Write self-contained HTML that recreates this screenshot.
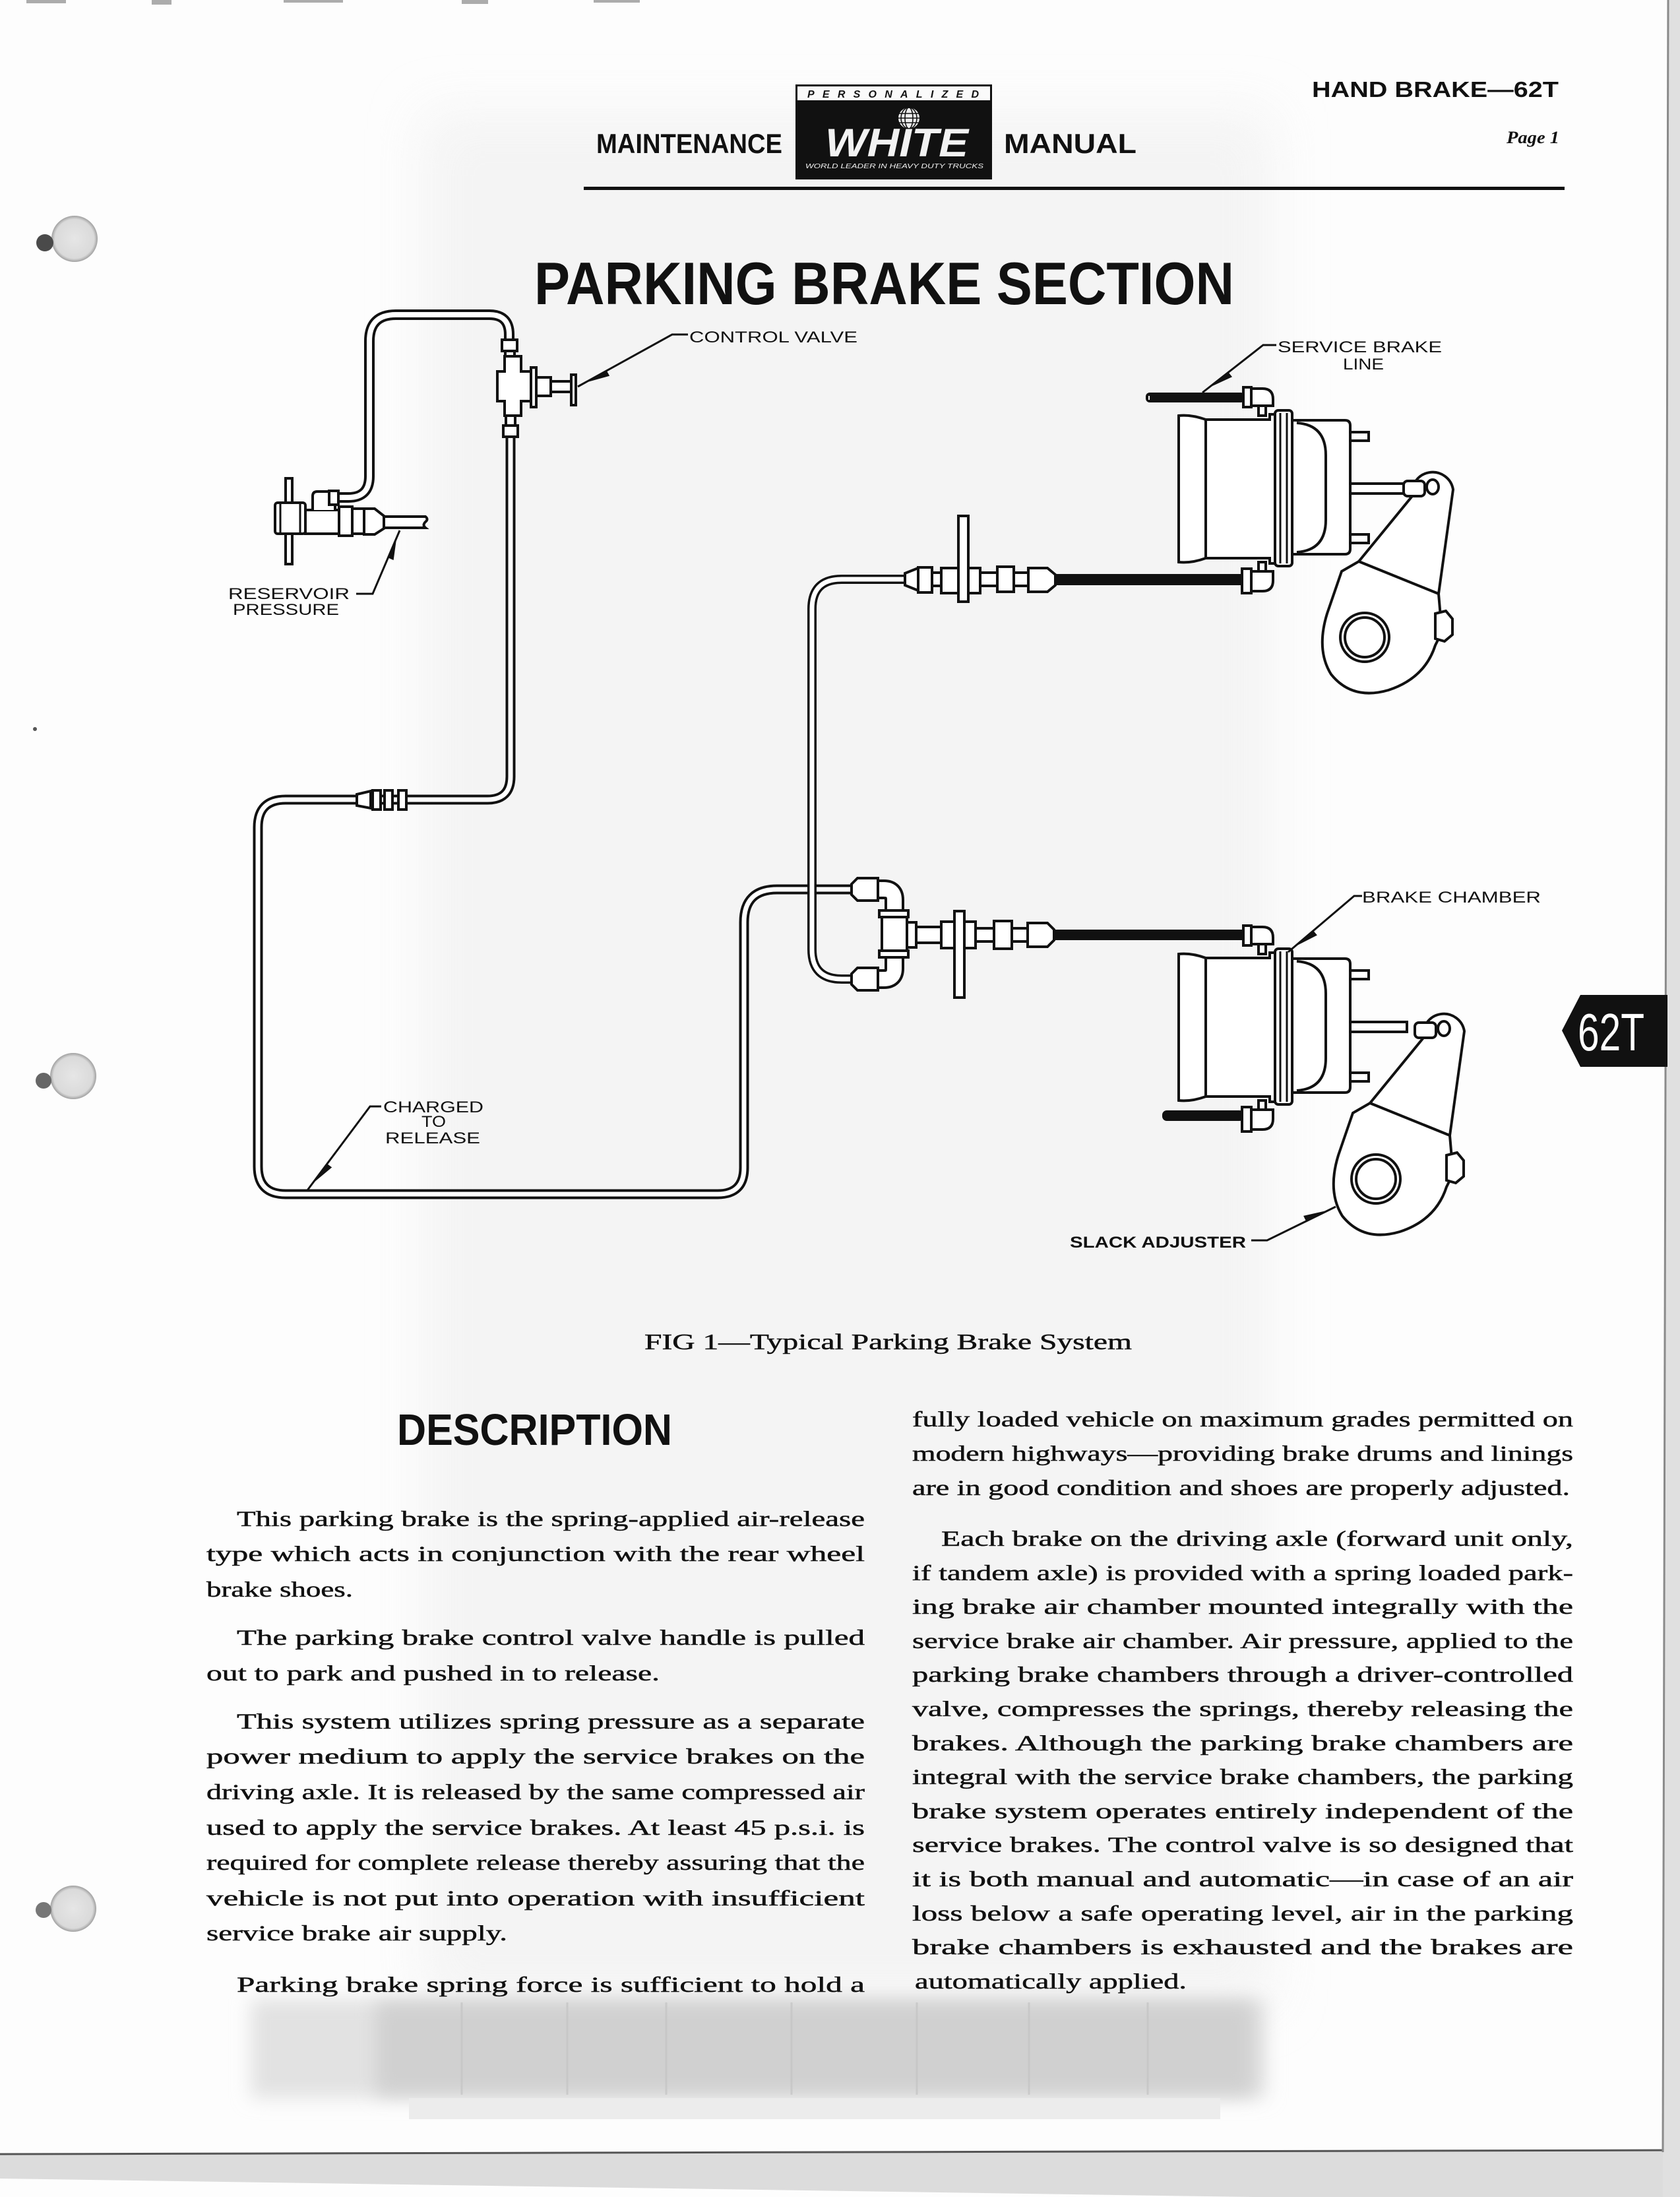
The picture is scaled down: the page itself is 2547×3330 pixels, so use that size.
<!DOCTYPE html>
<html>
<head>
<meta charset="utf-8">
<style>
html,body{margin:0;padding:0;background:#fdfdfd;}
body{width:2547px;height:3330px;overflow:hidden;}
svg{display:block;}
.lbl{font-family:"Liberation Sans",sans-serif;font-size:24px;fill:#111;}
.bt{font-family:"Liberation Serif",serif;font-size:33px;fill:#111;stroke:#111;stroke-width:0.5px;}
</style>
</head>
<body>
<svg width="2547" height="3330" viewBox="0 0 2547 3330" xmlns="http://www.w3.org/2000/svg">
<defs>
  <filter id="b40" x="-20%" y="-20%" width="140%" height="140%"><feGaussianBlur stdDeviation="40"/></filter>
  <filter id="b15" x="-20%" y="-50%" width="140%" height="200%"><feGaussianBlur stdDeviation="14"/></filter>
  <radialGradient id="hole" cx="50%" cy="50%" r="50%">
    <stop offset="0" stop-color="#e6e6e6"/><stop offset="0.85" stop-color="#dadada"/><stop offset="1" stop-color="#a0a0a0"/>
  </radialGradient>
</defs>

<!-- page background & scan artifacts -->
<rect x="0" y="0" width="2547" height="3330" fill="#fdfdfd"/>
<rect x="640" y="170" width="1290" height="2870" fill="#f2f2f2" filter="url(#b40)" opacity="0.8"/>
<rect x="380" y="3030" width="1540" height="150" fill="#e2e2e2" filter="url(#b15)"/>
<rect x="570" y="3035" width="1330" height="140" fill="#d0d0d0" filter="url(#b15)"/>
<g stroke="#c4c4c4" stroke-width="3" opacity="0.7">
  <line x1="700" y1="3035" x2="700" y2="3175"/><line x1="860" y1="3035" x2="860" y2="3175"/>
  <line x1="1010" y1="3035" x2="1010" y2="3175"/><line x1="1200" y1="3035" x2="1200" y2="3175"/>
  <line x1="1390" y1="3035" x2="1390" y2="3175"/><line x1="1560" y1="3035" x2="1560" y2="3175"/>
  <line x1="1740" y1="3035" x2="1740" y2="3175"/>
</g>
<rect x="620" y="3180" width="1230" height="32" fill="#ececec"/>
<g fill="#777" opacity="0.6">
  <rect x="40" y="0" width="60" height="5"/><rect x="230" y="0" width="30" height="7"/>
  <rect x="430" y="0" width="90" height="4"/><rect x="700" y="0" width="40" height="6"/>
  <rect x="900" y="0" width="70" height="4"/>
</g>
<!-- bottom edge -->
<polygon points="0,3266 2547,3259 2547,3330 1900,3330 0,3302" fill="#dcdcdc"/>
<line x1="0" y1="3265" x2="2547" y2="3259" stroke="#555" stroke-width="3"/>
<!-- right edge -->
<polygon points="2529,0 2547,0 2547,3330 2521,3330" fill="#e0e0e0"/>
<line x1="2529" y1="0" x2="2521" y2="3262" stroke="#8a8a8a" stroke-width="3"/>

<!-- binding holes -->
<g>
  <circle cx="113" cy="362" r="35" fill="url(#hole)"/>
  <circle cx="68" cy="368" r="13" fill="#4a4a4a"/>
  <circle cx="111" cy="1631" r="35" fill="url(#hole)"/>
  <circle cx="66" cy="1638" r="12" fill="#666"/>
  <circle cx="111" cy="2893" r="35" fill="url(#hole)"/>
  <circle cx="66" cy="2895" r="12" fill="#777"/>
  <circle cx="53" cy="1105" r="3" fill="#555"/>
</g>

<!-- ===== HEADER ===== -->
<text x="904" y="232" font-family="Liberation Sans,sans-serif" font-weight="bold" font-size="42" fill="#111" textLength="282" lengthAdjust="spacingAndGlyphs">MAINTENANCE</text>
<text x="1522" y="232" font-family="Liberation Sans,sans-serif" font-weight="bold" font-size="42" fill="#111" textLength="201" lengthAdjust="spacingAndGlyphs">MANUAL</text>
<!-- logo -->
<rect x="1206" y="128" width="298" height="144" fill="#111"/>
<rect x="1209" y="131" width="292" height="21" fill="#fafafa"/>
<text x="1224" y="148" font-family="Liberation Sans,sans-serif" font-style="italic" font-weight="bold" font-size="16" fill="#111" textLength="260" lengthAdjust="spacing">PERSONALIZED</text>
<g>
  <circle cx="1378" cy="179" r="16" fill="#eee"/>
  <g stroke="#111" stroke-width="1.6" fill="none">
    <line x1="1362" y1="172" x2="1394" y2="172"/><line x1="1362" y1="179" x2="1394" y2="179"/><line x1="1362" y1="186" x2="1394" y2="186"/>
    <ellipse cx="1378" cy="179" rx="6" ry="16"/><ellipse cx="1378" cy="179" rx="12" ry="16"/>
  </g>
</g>
<text x="1251" y="237" font-family="Liberation Sans,sans-serif" font-style="italic" font-weight="bold" font-size="60" fill="#f2f2f2" textLength="217" lengthAdjust="spacingAndGlyphs">WHITE</text>
<text x="1221" y="255" font-family="Liberation Sans,sans-serif" font-style="italic" font-size="10" fill="#eee" textLength="270" lengthAdjust="spacingAndGlyphs">WORLD LEADER IN HEAVY DUTY TRUCKS</text>

<text x="1989" y="147" font-family="Liberation Sans,sans-serif" font-weight="bold" font-size="33" fill="#111" textLength="374" lengthAdjust="spacingAndGlyphs">HAND BRAKE—62T</text>
<text x="2284" y="217" font-family="Liberation Serif,serif" font-style="italic" font-weight="bold" font-size="26" fill="#111" textLength="80" lengthAdjust="spacingAndGlyphs">Page 1</text>
<rect x="885" y="283" width="1487" height="5" fill="#111"/>

<!-- title -->
<text x="810" y="461" font-family="Liberation Sans,sans-serif" font-weight="bold" font-size="91" fill="#111" textLength="1061" lengthAdjust="spacingAndGlyphs">PARKING BRAKE SECTION</text>

<!-- ===== DIAGRAM ===== -->
<g fill="none" stroke-linejoin="round">
  <path d="M 512 754 L 528 754 Q 560 754 560 722 L 560 517 Q 560 477 600 477 L 742 477 Q 772 477 772 507 L 772 516" stroke="#111" stroke-width="16"/>
  <path d="M 512 754 L 528 754 Q 560 754 560 722 L 560 517 Q 560 477 600 477 L 742 477 Q 772 477 772 507 L 772 516" stroke="#fff" stroke-width="8"/>
  <path d="M 774 660 L 774 1177 Q 774 1212 739 1212 L 433 1212 Q 391 1212 391 1254 L 391 1768 Q 391 1810 433 1810 L 1088 1810 Q 1128 1810 1128 1770 L 1128 1398 Q 1128 1348 1178 1348 L 1295 1348" stroke="#111" stroke-width="15"/>
  <path d="M 774 660 L 774 1177 Q 774 1212 739 1212 L 433 1212 Q 391 1212 391 1254 L 391 1768 Q 391 1810 433 1810 L 1088 1810 Q 1128 1810 1128 1770 L 1128 1398 Q 1128 1348 1178 1348 L 1295 1348" stroke="#fff" stroke-width="7"/>
  <path d="M 1374 878 L 1276 878 Q 1231 878 1231 923 L 1231 1439 Q 1231 1484 1276 1484 L 1293 1484" stroke="#111" stroke-width="14"/>
  <path d="M 1374 878 L 1276 878 Q 1231 878 1231 923 L 1231 1439 Q 1231 1484 1276 1484 L 1293 1484" stroke="#fff" stroke-width="7"/>
</g>

<g fill="#fff" stroke="#111" stroke-width="4">
  <polygon points="541,1204 562,1199 562,1225 541,1221"/>
  <rect x="565" y="1198" width="12" height="29"/>
  <rect x="583" y="1198" width="12" height="29"/>
  <rect x="604" y="1198" width="12" height="29"/>
</g>

<!-- control valve -->
<g fill="#fff" stroke="#111" stroke-width="4">
  <rect x="761" y="515" width="23" height="17"/>
  <rect x="766" y="532" width="14" height="8"/>
  <polygon points="765,540 790,540 790,563 805,563 805,608 790,608 790,630 765,630 765,608 754,608 754,563 765,563"/>
  <rect x="805" y="557" width="8" height="60"/>
  <rect x="813" y="572" width="22" height="28"/>
  <rect x="835" y="578" width="31" height="16"/>
  <rect x="866" y="568" width="7" height="46"/>
  <rect x="767" y="630" width="14" height="15"/>
  <rect x="763" y="645" width="22" height="17"/>
</g>

<!-- reservoir valve -->
<g fill="#fff" stroke="#111" stroke-width="4">
  <rect x="433" y="725" width="10" height="130"/>
  <rect x="463" y="773" width="51" height="36"/>
  <path d="M474 773 L474 752 Q474 745 481 745 L500 745 Q508 745 508 752 L508 773"/>
  <rect x="499" y="744" width="14" height="21"/>
  <rect x="417" y="762" width="46" height="47" rx="4"/>
  <line x1="425" y1="764" x2="425" y2="807" stroke-width="3"/>
  <line x1="455" y1="764" x2="455" y2="807" stroke-width="3"/>
  <rect x="514" y="768" width="20" height="44"/>
  <rect x="534" y="771" width="18" height="38"/>
  <path d="M552 771 L568 771 L582 782 L582 801 L568 810 L552 810 Z"/>
  <path d="M582 783 L645 783 Q650 787 645 791 Q640 796 645 800 L582 800 Z"/>
</g>

<!-- upper line fittings -->
<rect x="1598" y="870" width="288" height="17" fill="#111"/>
<g fill="#fff" stroke="#111" stroke-width="4">
  <polygon points="1372,869 1392,861 1392,895 1372,887"/>
  <rect x="1392" y="860" width="21" height="38"/>
  <rect x="1413" y="868" width="14" height="20"/>
  <rect x="1427" y="861" width="26" height="38"/>
  <rect x="1468" y="861" width="18" height="38"/>
  <rect x="1486" y="868" width="26" height="20"/>
  <rect x="1512" y="859" width="25" height="38"/>
  <rect x="1537" y="868" width="22" height="20"/>
  <path d="M1559 861 L1588 861 L1600 871 L1600 887 L1588 897 L1559 897 Z"/>
  <rect x="1453" y="782" width="15" height="130"/>
</g>

<!-- service brake line hose -->
<rect x="1737" y="595" width="150" height="15" rx="6" fill="#111"/>
<line x1="1742" y1="600" x2="1742" y2="606" stroke="#fff" stroke-width="2"/>

<!-- lower tee assembly -->
<rect x="1598" y="1409" width="287" height="16" fill="#111"/>
<g fill="#fff" stroke="#111" stroke-width="4">
  <path d="M1331 1348 L1340 1348 Q1356 1348 1356 1364 L1356 1382" fill="none" stroke-width="30"/>
  <path d="M1331 1348 L1340 1348 Q1356 1348 1356 1364 L1356 1382" fill="none" stroke="#fff" stroke-width="22"/>
  <path d="M1356 1448 L1356 1468 Q1356 1484 1340 1484 L1331 1484" fill="none" stroke-width="30"/>
  <path d="M1356 1448 L1356 1468 Q1356 1484 1340 1484 L1331 1484" fill="none" stroke="#fff" stroke-width="22"/>
  <polygon points="1291,1340 1300,1331 1331,1331 1331,1365 1300,1365 1291,1356"/>
  <polygon points="1291,1476 1300,1467 1331,1467 1331,1501 1300,1501 1291,1492"/>
  <rect x="1337" y="1386" width="38" height="58"/>
  <rect x="1333" y="1380" width="44" height="10"/>
  <rect x="1333" y="1441" width="44" height="10"/>
  <rect x="1375" y="1398" width="14" height="38"/>
  <rect x="1389" y="1405" width="38" height="24"/>
  <rect x="1427" y="1397" width="20" height="40"/>
  <rect x="1462" y="1397" width="17" height="40"/>
  <rect x="1479" y="1407" width="28" height="20"/>
  <rect x="1507" y="1396" width="27" height="42"/>
  <rect x="1534" y="1407" width="24" height="20"/>
  <path d="M1558 1399 L1588 1399 L1598 1409 L1598 1425 L1588 1435 L1558 1435 Z"/>
  <rect x="1447" y="1381" width="15" height="131"/>
</g>

<rect x="1762" y="1683" width="124" height="16" rx="7" fill="#111"/>

<!-- chambers -->
<g fill="#fff" stroke="#111" stroke-width="4">
  <path d="M1787 630 Q1806 628 1828 636 L1925 636 L1925 628 L1933 628 L1933 854 L1925 854 L1925 846 L1828 846 Q1806 854 1787 852 Z"/>
  <line x1="1828" y1="636" x2="1828" y2="846"/>
  <rect x="1933" y="622" width="26" height="236" rx="5"/>
  <line x1="1941" y1="626" x2="1941" y2="854" stroke-width="3"/>
  <line x1="1951" y1="626" x2="1951" y2="854" stroke-width="3"/>
  <path d="M1959 637 L2039 637 Q2047 637 2047 645 L2047 832 Q2047 840 2039 840 L1959 840 Z"/>
  <path d="M1966 641 Q2010 644 2010 690 L2010 788 Q2010 834 1966 837" fill="none"/>
  <rect x="2047" y="655" width="28" height="13"/>
  <rect x="2047" y="810" width="28" height="13"/>
  <rect x="2047" y="733" width="86" height="15"/>
  <rect x="1908" y="612" width="11" height="18"/>
  <path d="M1897 589 L1914 589 Q1930 589 1930 605 L1930 615 L1897 615 Z"/>
  <rect x="1885" y="587" width="12" height="30"/>
  <rect x="1908" y="852" width="11" height="16"/>
  <path d="M1897 866 L1930 866 L1930 880 Q1930 896 1914 896 L1897 896 Z"/>
  <rect x="1883" y="862" width="14" height="37"/>
</g>
<g transform="translate(0,816)" fill="#fff" stroke="#111" stroke-width="4">
  <path d="M1787 630 Q1806 628 1828 636 L1925 636 L1925 628 L1933 628 L1933 854 L1925 854 L1925 846 L1828 846 Q1806 854 1787 852 Z"/>
  <line x1="1828" y1="636" x2="1828" y2="846"/>
  <rect x="1933" y="622" width="26" height="236" rx="5"/>
  <line x1="1941" y1="626" x2="1941" y2="854" stroke-width="3"/>
  <line x1="1951" y1="626" x2="1951" y2="854" stroke-width="3"/>
  <path d="M1959 637 L2039 637 Q2047 637 2047 645 L2047 832 Q2047 840 2039 840 L1959 840 Z"/>
  <path d="M1966 641 Q2010 644 2010 690 L2010 788 Q2010 834 1966 837" fill="none"/>
  <rect x="2047" y="655" width="28" height="13"/>
  <rect x="2047" y="810" width="28" height="13"/>
  <rect x="2047" y="733" width="86" height="15"/>
  <rect x="1908" y="612" width="11" height="18"/>
  <path d="M1897 589 L1914 589 Q1930 589 1930 605 L1930 615 L1897 615 Z"/>
  <rect x="1885" y="587" width="12" height="30"/>
  <rect x="1908" y="852" width="11" height="16"/>
  <path d="M1897 866 L1930 866 L1930 880 Q1930 896 1914 896 L1897 896 Z"/>
  <rect x="1883" y="862" width="14" height="37"/>
</g>

<!-- slack adjusters -->
<g fill="#fff" stroke="#111" stroke-width="4">
  <path d="M2141 752 L2060 851 L2181 900 L2203 742 A31 31 0 0 0 2141 752 Z"/>
  <path d="M2060 851 L2034 866 L2012 930 Q1995 985 2018 1022 Q2050 1062 2105 1046 Q2160 1028 2176 978 L2186 958 L2181 900 Z"/>
  <circle cx="2069" cy="966" r="37"/>
  <circle cx="2069" cy="966" r="30"/>
  <path d="M2176 930 L2192 926 L2202 938 L2202 962 L2190 972 L2176 968 Z"/>
  <ellipse cx="2172" cy="738" rx="9" ry="11"/>
  <rect x="2128" y="729" width="32" height="23" rx="6"/>
</g>
<g transform="translate(17,821)" fill="#fff" stroke="#111" stroke-width="4">
  <path d="M2141 752 L2060 851 L2181 900 L2203 742 A31 31 0 0 0 2141 752 Z"/>
  <path d="M2060 851 L2034 866 L2012 930 Q1995 985 2018 1022 Q2050 1062 2105 1046 Q2160 1028 2176 978 L2186 958 L2181 900 Z"/>
  <circle cx="2069" cy="966" r="37"/>
  <circle cx="2069" cy="966" r="30"/>
  <path d="M2176 930 L2192 926 L2202 938 L2202 962 L2190 972 L2176 968 Z"/>
  <ellipse cx="2172" cy="738" rx="9" ry="11"/>
  <rect x="2128" y="729" width="32" height="23" rx="6"/>
</g>

<!-- leaders -->
<g stroke="#111" stroke-width="3" fill="none">
  <polyline points="1043,507 1019,507 876,586"/>
  <polyline points="1935,523 1915,523 1823,595"/>
  <polyline points="2065,1358 2053,1358 1953,1443"/>
  <polyline points="1897,1880 1921,1880 2025,1829"/>
  <polyline points="578,1677 561,1677 466,1804"/>
  <polyline points="540,900 565,900 606,804"/>
</g>
<g fill="#111">
  <polygon points="886.5,580.2 919.8,561.9 924.1,569.8"/>
  <polygon points="1832.5,587.6 1862.4,564.2 1868,571.3"/>
  <polygon points="1962.1,1435.2 1991.1,1410.6 1996.9,1417.5"/>
  <polygon points="2014.2,1834.3 1980.1,1851 1976.1,1842.9"/>
  <polygon points="473.2,1794.4 496,1764 503.2,1769.4"/>
  <polygon points="601.3,815 588.3,845.4 596.6,849"/>
</g>

<!-- labels -->
<text class="lbl" x="1045" y="519" textLength="255" lengthAdjust="spacingAndGlyphs">CONTROL VALVE</text>
<text class="lbl" x="1937" y="534" textLength="249" lengthAdjust="spacingAndGlyphs">SERVICE BRAKE</text>
<text class="lbl" x="2036" y="560" textLength="62" lengthAdjust="spacingAndGlyphs">LINE</text>
<text class="lbl" x="2065" y="1368" textLength="271" lengthAdjust="spacingAndGlyphs">BRAKE CHAMBER</text>
<text class="lbl" x="1622" y="1891" font-weight="bold" textLength="267" lengthAdjust="spacingAndGlyphs">SLACK ADJUSTER</text>
<text class="lbl" x="581" y="1686" textLength="152" lengthAdjust="spacingAndGlyphs">CHARGED</text>
<text class="lbl" x="639" y="1708" textLength="37" lengthAdjust="spacingAndGlyphs">TO</text>
<text class="lbl" x="584" y="1733" textLength="144" lengthAdjust="spacingAndGlyphs">RELEASE</text>
<text class="lbl" x="346" y="908" textLength="184" lengthAdjust="spacingAndGlyphs">RESERVOIR</text>
<text class="lbl" x="353" y="932" textLength="161" lengthAdjust="spacingAndGlyphs">PRESSURE</text>

<!-- side tab -->
<polygon points="2368,1562 2396,1508 2528,1508 2528,1617 2396,1617" fill="#111"/>
<text x="2392" y="1592" font-family="Liberation Sans,sans-serif" font-size="80" fill="#fff" textLength="101" lengthAdjust="spacingAndGlyphs">62T</text>

<!-- caption -->
<text x="977" y="2045" font-family="Liberation Serif,serif" font-size="34" fill="#111" stroke="#111" stroke-width="0.5" textLength="739" lengthAdjust="spacingAndGlyphs">FIG 1—Typical Parking Brake System</text>

<!-- DESCRIPTION -->
<text x="602" y="2190" font-family="Liberation Sans,sans-serif" font-weight="bold" font-size="67" fill="#111" textLength="417" lengthAdjust="spacingAndGlyphs">DESCRIPTION</text>

<!-- left column -->
<text class="bt" x="359" y="2313" textLength="952" lengthAdjust="spacingAndGlyphs">This parking brake is the spring-applied air-release</text>
<text class="bt" x="313" y="2366" textLength="998" lengthAdjust="spacingAndGlyphs">type which acts in conjunction with the rear wheel</text>
<text class="bt" x="313" y="2420" textLength="222" lengthAdjust="spacingAndGlyphs">brake shoes.</text>
<text class="bt" x="359" y="2493" textLength="952" lengthAdjust="spacingAndGlyphs">The parking brake control valve handle is pulled</text>
<text class="bt" x="313" y="2547" textLength="687" lengthAdjust="spacingAndGlyphs">out to park and pushed in to release.</text>
<text class="bt" x="359" y="2620" textLength="952" lengthAdjust="spacingAndGlyphs">This system utilizes spring pressure as a separate</text>
<text class="bt" x="313" y="2673" textLength="998" lengthAdjust="spacingAndGlyphs">power medium to apply the service brakes on the</text>
<text class="bt" x="313" y="2727" textLength="998" lengthAdjust="spacingAndGlyphs">driving axle. It is released by the same compressed air</text>
<text class="bt" x="313" y="2781" textLength="998" lengthAdjust="spacingAndGlyphs">used to apply the service brakes. At least 45 p.s.i. is</text>
<text class="bt" x="313" y="2834" textLength="998" lengthAdjust="spacingAndGlyphs">required for complete release thereby assuring that the</text>
<text class="bt" x="313" y="2888" textLength="998" lengthAdjust="spacingAndGlyphs">vehicle is not put into operation with insufficient</text>
<text class="bt" x="313" y="2941" textLength="456" lengthAdjust="spacingAndGlyphs">service brake air supply.</text>
<text class="bt" x="359" y="3019" textLength="952" lengthAdjust="spacingAndGlyphs">Parking brake spring force is sufficient to hold a</text>

<!-- right column -->
<text class="bt" x="1383" y="2162" textLength="1002" lengthAdjust="spacingAndGlyphs">fully loaded vehicle on maximum grades permitted on</text>
<text class="bt" x="1383" y="2214" textLength="1002" lengthAdjust="spacingAndGlyphs">modern highways—providing brake drums and linings</text>
<text class="bt" x="1383" y="2266" textLength="997" lengthAdjust="spacingAndGlyphs">are in good condition and shoes are properly adjusted.</text>
<text class="bt" x="1427" y="2343" textLength="958" lengthAdjust="spacingAndGlyphs">Each brake on the driving axle (forward unit only,</text>
<text class="bt" x="1383" y="2395" textLength="1002" lengthAdjust="spacingAndGlyphs">if tandem axle) is provided with a spring loaded park-</text>
<text class="bt" x="1383" y="2446" textLength="1002" lengthAdjust="spacingAndGlyphs">ing brake air chamber mounted integrally with the</text>
<text class="bt" x="1383" y="2498" textLength="1002" lengthAdjust="spacingAndGlyphs">service brake air chamber. Air pressure, applied to the</text>
<text class="bt" x="1383" y="2549" textLength="1002" lengthAdjust="spacingAndGlyphs">parking brake chambers through a driver-controlled</text>
<text class="bt" x="1383" y="2601" textLength="1002" lengthAdjust="spacingAndGlyphs">valve, compresses the springs, thereby releasing the</text>
<text class="bt" x="1383" y="2653" textLength="1002" lengthAdjust="spacingAndGlyphs">brakes. Although the parking brake chambers are</text>
<text class="bt" x="1383" y="2704" textLength="1002" lengthAdjust="spacingAndGlyphs">integral with the service brake chambers, the parking</text>
<text class="bt" x="1383" y="2756" textLength="1002" lengthAdjust="spacingAndGlyphs">brake system operates entirely independent of the</text>
<text class="bt" x="1383" y="2807" textLength="1002" lengthAdjust="spacingAndGlyphs">service brakes. The control valve is so designed that</text>
<text class="bt" x="1383" y="2859" textLength="1002" lengthAdjust="spacingAndGlyphs">it is both manual and automatic—in case of an air</text>
<text class="bt" x="1383" y="2911" textLength="1002" lengthAdjust="spacingAndGlyphs">loss below a safe operating level, air in the parking</text>
<text class="bt" x="1383" y="2962" textLength="1002" lengthAdjust="spacingAndGlyphs">brake chambers is exhausted and the brakes are</text>
<text class="bt" x="1387" y="3014" textLength="412" lengthAdjust="spacingAndGlyphs">automatically applied.</text>
</svg>
</body>
</html>
